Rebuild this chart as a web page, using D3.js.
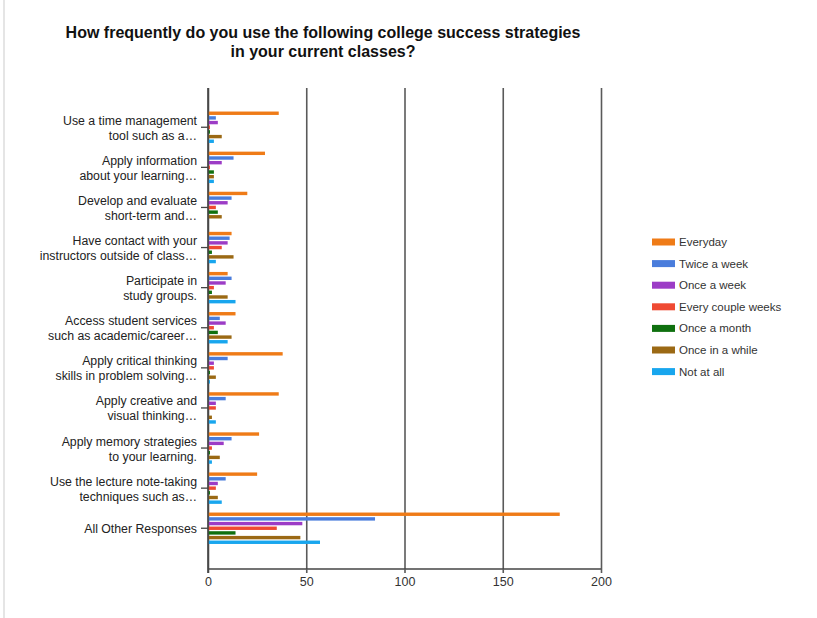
<!DOCTYPE html>
<html>
<head>
<meta charset="utf-8">
<script src="https://cdn.jsdelivr.net/npm/d3@7/dist/d3.min.js"></script>
<style>
  html, body { margin: 0; padding: 0; background: #fff; }
  svg { display: block; font-family: "Liberation Sans", Arial, sans-serif; }
</style>
</head>
<body>
<svg id="chart" width="817" height="618"></svg>
<script>
// Survey categories (each label split into its two display lines)
const categories = [
  ["Use a time management", "tool such as a…"],
  ["Apply information", "about your learning…"],
  ["Develop and evaluate", "short-term and…"],
  ["Have contact with your", "instructors outside of class…"],
  ["Participate in", "study groups."],
  ["Access student services", "such as academic/career…"],
  ["Apply critical thinking", "skills in problem solving…"],
  ["Apply creative and", "visual thinking…"],
  ["Apply memory strategies", "to your learning."],
  ["Use the lecture note-taking", "techniques such as…"],
  ["All Other Responses"]
];

const seriesNames = ["Everyday", "Twice a week", "Once a week", "Every couple weeks",
                     "Once a month", "Once in a while", "Not at all"];
const seriesColors = ["#ef7b17", "#4a7ddc", "#9c3cc6", "#ef4a33", "#0f700f", "#9b6914", "#18a6ee"];

// Response counts per category, one array per frequency option
const everyday    = [36, 29, 20, 12, 10, 14, 38, 36, 26, 25, 179];
const twiceWeek   = [4, 13, 12, 11, 12, 6, 10, 9, 12, 9, 85];
const onceWeek    = [5, 7, 10, 10, 9, 9, 3, 4, 8, 5, 48];
const coupleWeeks = [1, 1, 4, 7, 3, 3, 3, 4, 2, 4, 35];
const onceMonth   = [1, 3, 5, 2, 2, 5, 1, 0, 1, 1, 14];
const onceWhile   = [7, 3, 7, 13, 10, 12, 4, 2, 6, 5, 47];
const notAtAll    = [3, 3, 0, 4, 14, 10, 1, 4, 2, 7, 57];

const xTicks = [0, 50, 100, 150, 200];

const seriesValues = [everyday, twiceWeek, onceWeek, coupleWeeks, onceMonth, onceWhile, notAtAll];

const svg = d3.select("#chart");

// faint page edge on the left
svg.append("line")
  .attr("x1", 4).attr("x2", 4).attr("y1", 0).attr("y2", 618)
  .attr("stroke", "#dcdcdc").attr("stroke-width", 1.5);

// Title
const title = svg.append("text")
  .attr("text-anchor", "middle")
  .attr("font-size", 16).attr("font-weight", "bold").attr("fill", "#111");
title.append("tspan").attr("x", 323).attr("y", 38)
  .text("How frequently do you use the following college success strategies");
title.append("tspan").attr("x", 323).attr("y", 57)
  .text("in your current classes?");

// Scales
const plotTop = 88, plotBottom = 569;
const x = d3.scaleLinear().domain([0, 200]).range([208, 601]);
const catIdx = d3.range(categories.length);
const y = d3.scaleBand().domain(catIdx).range([107.2, 548.3]).padding(0);
const ySub = d3.scaleBand().domain(d3.range(seriesNames.length))
  .range([0, 32.7]).padding(0);
const barH = 3.4;

// Vertical gridlines (drawn via the x axis generator)
const grid = svg.append("g").attr("transform", `translate(0,${plotBottom})`)
  .call(d3.axisBottom(x).tickValues(xTicks).tickSize(-(plotBottom - plotTop)).tickFormat(""));
grid.select(".domain").remove();
grid.selectAll(".tick line").attr("stroke", "#5a5a5a").attr("stroke-width", 1.6);

// Bars
const groups = svg.append("g").selectAll("g")
  .data(catIdx).join("g")
  .attr("transform", i => `translate(0,${y(i) + y.bandwidth() / 2 - 16.35})`);

groups.selectAll("rect")
  .data(i => seriesValues.map((arr, s) => ({ s, v: arr[i] })))
  .join("rect")
  .attr("x", x(0))
  .attr("y", d => ySub(d.s) + (ySub.bandwidth() - barH) / 2)
  .attr("width", d => x(d.v) - x(0))
  .attr("height", barH)
  .attr("fill", d => seriesColors[d.s]);

// Bottom axis with labels
const xAxis = svg.append("g").attr("transform", `translate(0,${plotBottom})`)
  .call(d3.axisBottom(x).tickValues(xTicks).tickSize(4).tickPadding(4));
xAxis.select(".domain").attr("stroke", "#444").attr("stroke-width", 1.6)
  .attr("d", `M${x(0)},0H${x(200)}`);
xAxis.selectAll(".tick line").attr("stroke", "#5a5a5a").attr("stroke-width", 1.6);
xAxis.selectAll(".tick text").attr("font-size", 12.5).attr("fill", "#333")
  .attr("font-family", "'Liberation Sans', Arial, sans-serif");

// Left category axis
const yAxis = svg.append("g").attr("transform", `translate(${x(0)},0)`)
  .call(d3.axisLeft(y).tickSize(7).tickFormat(""));
yAxis.select(".domain").attr("stroke", "#444").attr("stroke-width", 1.6)
  .attr("d", `M0,${plotTop}V${plotBottom + 4}`);
yAxis.selectAll(".tick line").attr("stroke", "#444").attr("stroke-width", 1.3);

// Category labels
const labels = svg.append("g").selectAll("text")
  .data(catIdx).join("text")
  .attr("text-anchor", "end")
  .attr("font-size", 12.3).attr("fill", "#222");
labels.each(function (i) {
  const c = y(i) + y.bandwidth() / 2;
  const lines = categories[i];
  const t = d3.select(this);
  if (lines.length === 1) {
    t.append("tspan").attr("x", 197).attr("y", c + 4.5).text(lines[0]);
  } else {
    t.append("tspan").attr("x", 197).attr("y", c - 2.5).text(lines[0]);
    t.append("tspan").attr("x", 197).attr("y", c + 12.5).text(lines[1]);
  }
});

// Legend
const legend = svg.append("g").selectAll("g")
  .data(seriesNames).join("g")
  .attr("transform", (d, i) => `translate(652,${242 + i * 21.6})`);
legend.append("rect")
  .attr("x", 0).attr("y", -3.5).attr("width", 23).attr("height", 7)
  .attr("fill", (d, i) => seriesColors[i]);
legend.append("text")
  .attr("x", 27).attr("y", 4)
  .attr("font-size", 11.5).attr("fill", "#333")
  .text(d => d);
</script>
</body>
</html>
